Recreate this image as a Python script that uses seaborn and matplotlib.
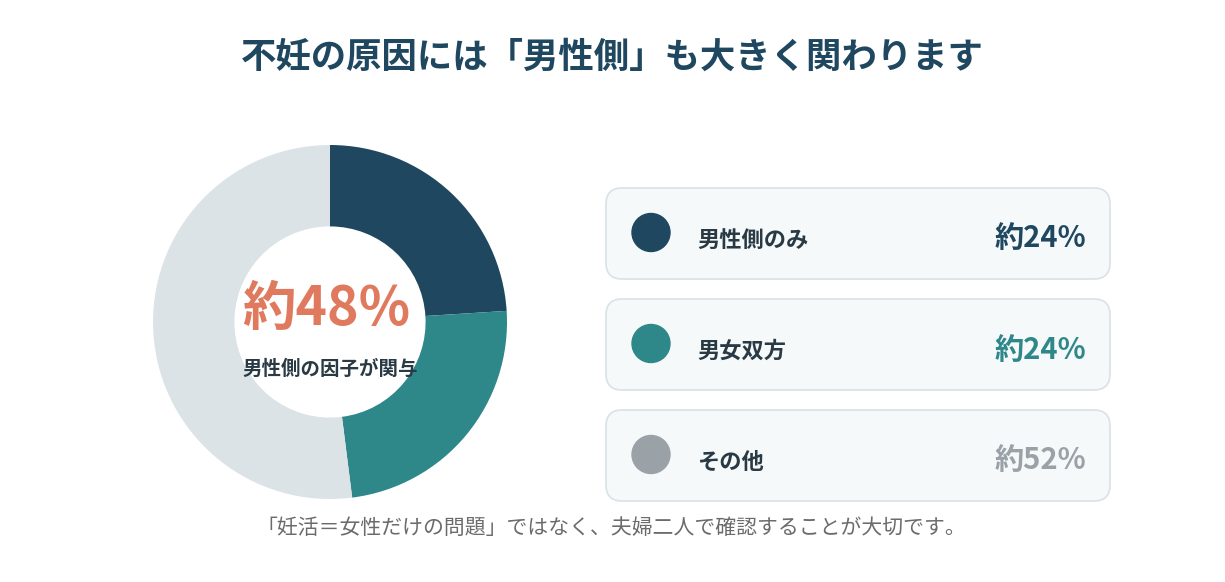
import matplotlib.pyplot as plt
import seaborn as sns
from matplotlib.patches import FancyBboxPatch, Circle

# データ
categories = ["男性側のみ", "男女双方", "その他"]
shares = [24, 24, 52]
wedge_colors = ["#1F4860", "#2E8789", "#DCE3E7"]
dot_colors = ["#1F4860", "#2E8789", "#9AA1A7"]
value_colors = ["#1F4860", "#2E8789", "#9AA1A7"]

title = "不妊の原因には「男性側」も大きく関わります"
center_sub = "男性側の因子が関与"
footnote = "「妊活＝女性だけの問題」ではなく、夫婦二人で確認することが大切です。"

sns.set_theme(style="white")
plt.rcParams["font.family"] = ["Noto Sans CJK JP", "DejaVu Sans"]

W, H = 1225, 582
fig = plt.figure(figsize=(W / 100, H / 100), dpi=100)
fig.patch.set_facecolor("white")

# ドーナツ
cx, cy, r = 330, 322, 177
ax = fig.add_axes([(cx - r) / W, (H - cy - r) / H, 2 * r / W, 2 * r / H])
ax.pie(shares, colors=wedge_colors, startangle=90, counterclock=False,
       radius=1, wedgeprops=dict(width=0.46, edgecolor="none"))
ax.set_xlim(-1, 1)
ax.set_ylim(-1, 1)
ax.set_aspect("equal")
ax.axis("off")

male_total = shares[0] + shares[1]
ax.text(-0.02, 0.07, f"約{male_total}%", ha="center", va="center",
        fontsize=38.5, fontweight="bold", color="#E07A5F")
ax.text(0, -0.27, center_sub, ha="center", va="center",
        fontsize=14, fontweight="bold", color="#2A3A45")

# 全体用のピクセル座標 axes
bg = fig.add_axes([0, 0, 1, 1], zorder=-1)
bg.set_xlim(0, W)
bg.set_ylim(H, 0)
bg.axis("off")

bg.text(W / 2, 57, title, ha="center", va="center",
        fontsize=25.5, fontweight="bold", color="#1F4860")
bg.text(W / 2 - 1, 528, footnote, ha="center", va="center",
        fontsize=15, color="#6B6B6B")

# 凡例カード
card_x, card_w, card_h = 606, 504, 91
card_tops = [188, 299, 410]
for i, cat in enumerate(categories):
    top = card_tops[i]
    box = FancyBboxPatch((card_x, top), card_w, card_h,
                         boxstyle="round,pad=0,rounding_size=16",
                         facecolor="#F6F9FA", edgecolor="#D9E2E6", lw=1.2)
    bg.add_patch(box)
    mid = top + card_h / 2
    bg.add_patch(Circle((651, mid - 1), 19, color=dot_colors[i]))
    bg.text(697, mid + 7, cat, ha="left", va="center",
            fontsize=16, fontweight="bold", color="#2A3A45")
    bg.text(1086, mid + 5, f"約{shares[i]}%", ha="right", va="center",
            fontsize=21, fontweight="bold", color=value_colors[i])

fig.savefig("out.png", dpi=100, facecolor="white")
